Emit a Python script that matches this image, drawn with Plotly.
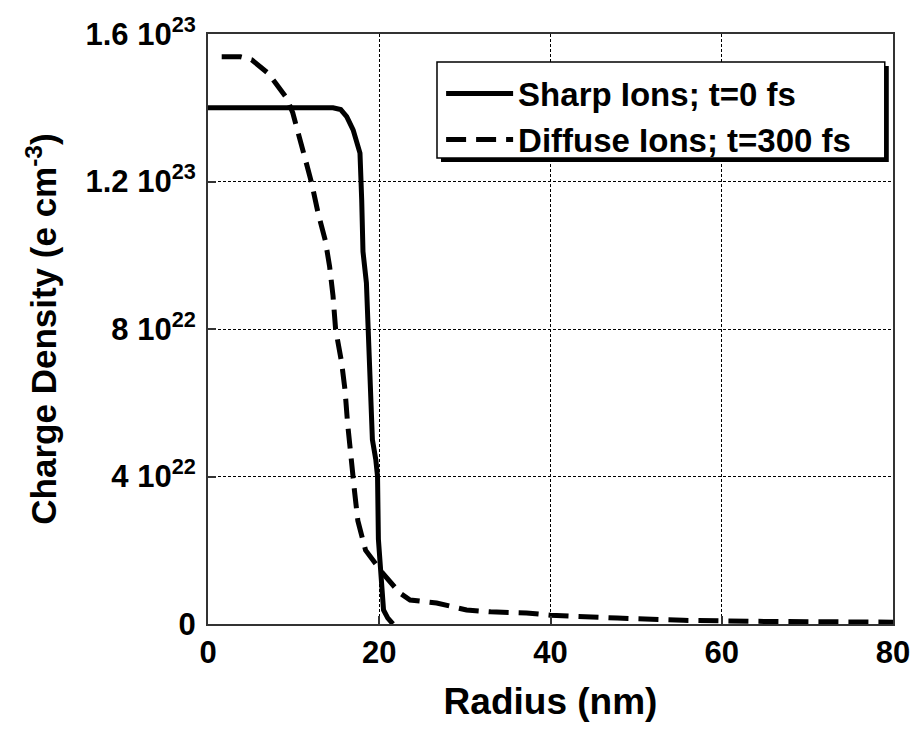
import plotly.graph_objects as go

# Radial charge-density profiles (radius in nm, density in units of 1e23 e/cm^3)
sharp_r = [0, 14.6, 15.5, 16.2, 16.95, 17.4, 17.75, 17.95, 18.1, 18.5, 18.8, 18.9,
           19.2, 19.6, 19.8, 19.9, 20.1, 20.3, 20.35, 20.5, 21.0, 21.6]
sharp_v = [1.40, 1.40, 1.395, 1.376, 1.34, 1.31, 1.277, 1.15, 1.01, 0.925, 0.74, 0.61,
           0.50, 0.445, 0.40, 0.23, 0.146, 0.12, 0.065, 0.038, 0.016, 0.0]

diffuse_r = [1.6, 3.8, 5.1, 7.0, 7.8, 9.2, 9.9, 10.5, 11.3, 12.1, 12.85, 13.7, 14.2,
             14.6, 14.9, 15.6, 16.0, 16.3, 16.7, 17.1, 17.5, 18.4, 20.4, 22.4, 23.6,
             26.7, 30.2, 33.0, 37.2, 40.0, 47.8, 55.5, 65.0, 80.0]
diffuse_v = [1.538, 1.538, 1.53, 1.494, 1.47, 1.426, 1.386, 1.33, 1.266, 1.196, 1.115,
             1.04, 0.97, 0.89, 0.80, 0.71, 0.635, 0.545, 0.437, 0.363, 0.28, 0.20,
             0.138, 0.084, 0.065, 0.057, 0.038, 0.033, 0.03, 0.024, 0.016, 0.01,
             0.007, 0.005]

scale = 1e23
names = ["Sharp Ions; t=0 fs", "Diffuse Ions; t=300 fs"]

x_ticks = [0, 20, 40, 60, 80]
y_ticks = [0, 4e22, 8e22, 1.2e23, 1.6e23]
y_ticktext = ["0", "4 10<sup>22</sup>", "8 10<sup>22</sup>",
              "1.2 10<sup>23</sup>", "1.6 10<sup>23</sup>"]

FONT = "Liberation Sans, Arial, sans-serif"

fig = go.Figure()
fig.add_trace(go.Scatter(
    x=sharp_r, y=[v * scale for v in sharp_v], mode="lines", name=names[0],
    line=dict(color="black", width=5, dash="solid"),
))
fig.add_trace(go.Scatter(
    x=diffuse_r, y=[v * scale for v in diffuse_v], mode="lines", name=names[1],
    line=dict(color="black", width=5, dash="20px,10px"),
))

axis_common = dict(
    showline=True, linecolor="#333", linewidth=2, mirror=True,
    ticks="inside", ticklen=8, tickwidth=1.5, tickcolor="#333",
    showgrid=True, gridcolor="black", gridwidth=1, griddash="3px,2px",
    zeroline=False,
    tickfont=dict(family=FONT, size=31, color="black", weight="bold"),
)

fig.update_xaxes(
    range=[0, 80], tickvals=x_ticks, ticktext=[str(t) for t in x_ticks],
    title=dict(text="Radius (nm)", standoff=19,
               font=dict(family=FONT, size=37, color="black", weight="bold")),
    **axis_common,
)
fig.update_yaxes(
    range=[0, 1.6e23], tickvals=y_ticks, ticktext=y_ticktext,
    ticklabelstandoff=4,
    title=dict(text="Charge Density (e cm<sup>-3</sup>)", standoff=18,
               font=dict(family=FONT, size=35, color="black", weight="bold")),
    **axis_common,
)

# Legend frame with a drop shadow, drawn in paper coordinates
lx0, lx1, ly0, ly1 = 0.3343, 0.988, 0.7898, 0.9525
sx, sy = 4 / 685, 4 / 590
fig.add_shape(type="rect", xref="paper", yref="paper",
              x0=lx0 + sx, x1=lx1 + sx, y0=ly0 - sy, y1=ly1 - sy,
              fillcolor="black", line=dict(width=0), layer="above")
fig.add_shape(type="rect", xref="paper", yref="paper",
              x0=lx0, x1=lx1, y0=ly0, y1=ly1,
              fillcolor="white", line=dict(color="black", width=1.5), layer="above")

fig.update_layout(
    width=917, height=730,
    margin=dict(l=208, r=24, t=34, b=106, autoexpand=False),
    paper_bgcolor="white", plot_bgcolor="white",
    showlegend=True,
    legend=dict(
        x=lx0 + 0.006, y=ly1 - 0.006, xanchor="left", yanchor="top",
        bgcolor="rgba(0,0,0,0)", borderwidth=0,
        font=dict(family=FONT, size=33, color="black", weight="bold"),
        itemwidth=67, tracegroupgap=0,
    ),
)

fig.write_html("out.html")
